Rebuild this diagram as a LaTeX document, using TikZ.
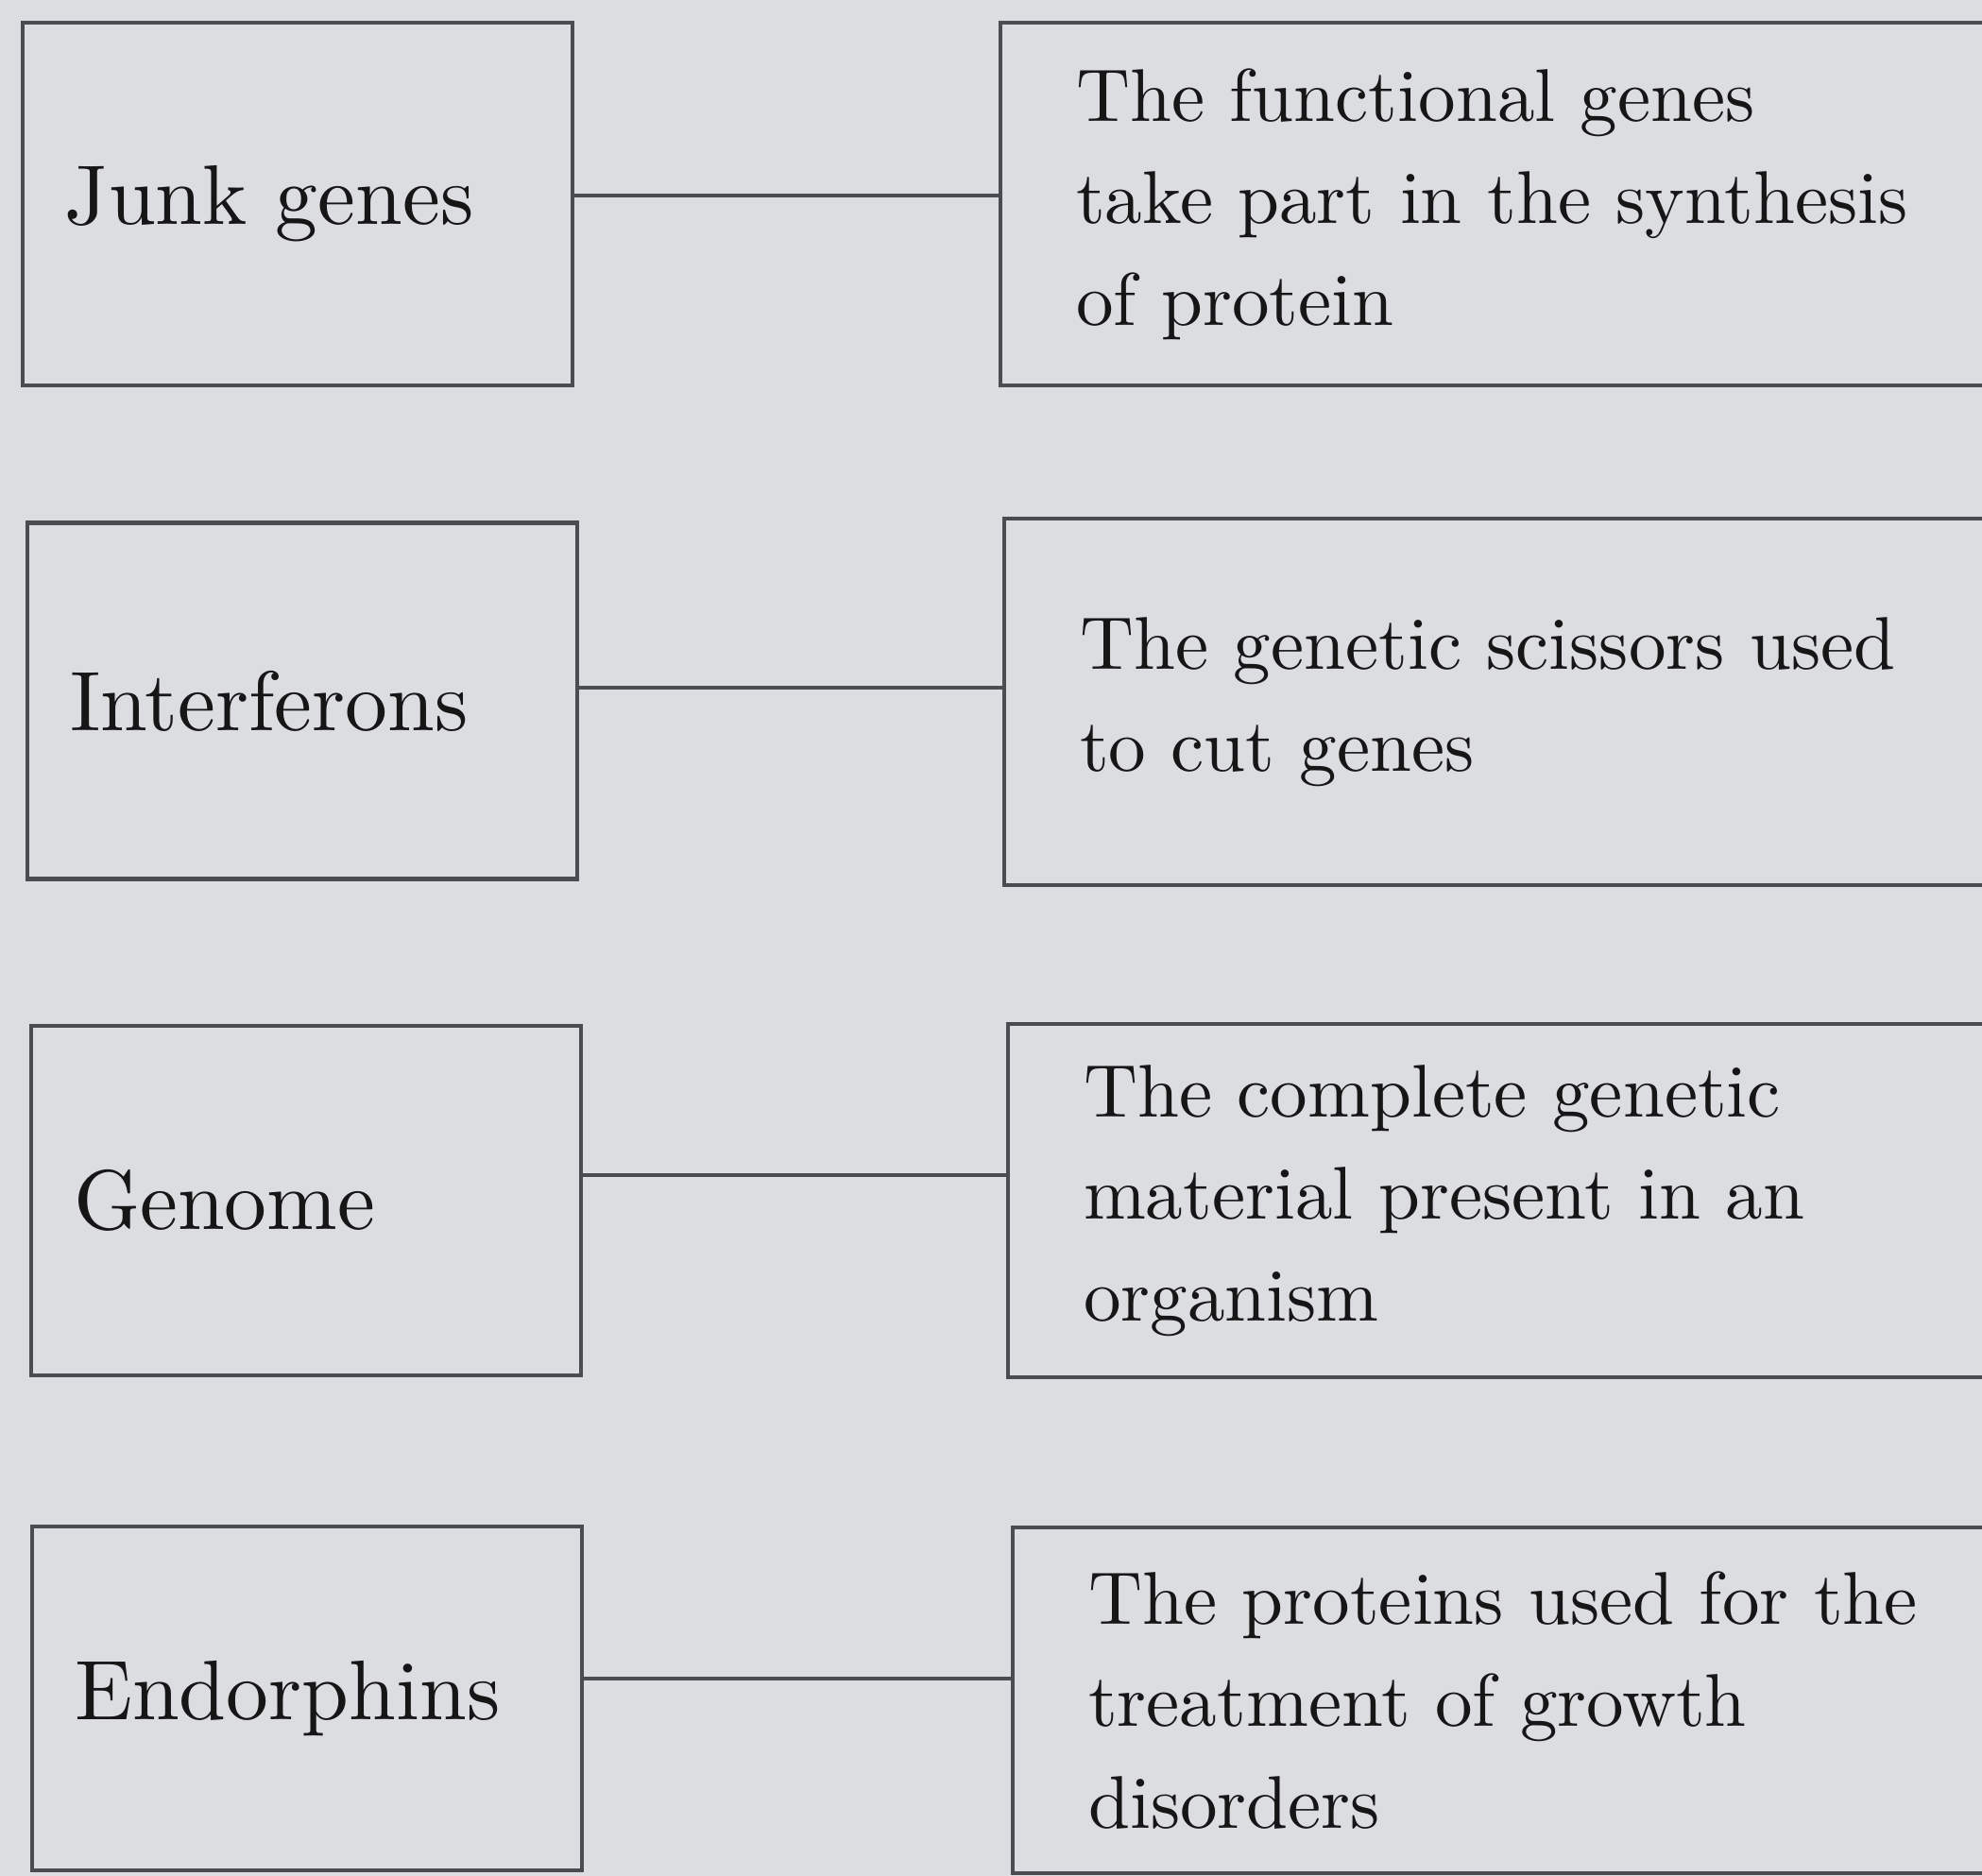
\documentclass[tikz,border=0pt]{standalone}
\usepackage{fontspec}
\setmainfont{lmroman10-regular.otf}
\usepackage{tikz}
\definecolor{pagegray}{HTML}{DCDDE1}
\definecolor{rulegray}{HTML}{4A4C52}
\definecolor{inkblack}{HTML}{161616}

\begin{document}
\begin{tikzpicture}[
  termbox/.style={draw=rulegray,line width=1.2pt,text=inkblack,align=left,
    text width=4.92cm,inner xsep=0.45cm,font=\fontsize{25.5}{31}\selectfont},
  defbox/.style={draw=rulegray,line width=1.2pt,text=inkblack,align=left,anchor=west,
    text width=11cm,inner xsep=0.8cm,font=\fontsize{22.5}{30.7}\selectfont},
  link/.style={draw=rulegray,line width=1.2pt}]
  \fill[pagegray] (0,0) rectangle (20.98,-19.86);
  \useasboundingbox (0,0) rectangle (20.98,-19.86);
  % terms
  \node[termbox,minimum height=3.84cm] (junk) at (3.15,-2.16) {Junk genes};
  \node[termbox,minimum height=3.77cm] (inter) at (3.20,-7.42) {Interferons};
  \node[termbox,minimum height=3.70cm] (genome) at (3.24,-12.71) {Genome};
  \node[termbox,minimum height=3.64cm] (endor) at (3.25,-17.98) {Endorphins};
  % definitions
  \node[defbox,minimum height=3.84cm] (func) at (10.57,-2.16)
    {The functional genes\\take part in the synthesis\\of protein};
  \node[defbox,minimum height=3.88cm] (sciss) at (10.61,-7.43)
    {The genetic scissors used\\to cut genes};
  \node[defbox,minimum height=3.74cm] (compl) at (10.65,-12.71)
    {The complete genetic\\material present in an\\organism};
  \node[defbox,minimum height=3.66cm] (prot) at (10.70,-18.00)
    {The proteins used for the\\treatment of growth\\disorders};
  % links
  \draw[link] ([yshift=0.09cm]junk.east) -- ([yshift=0.09cm]junk.east -| func.west);
  \draw[link] ([yshift=0.14cm]inter.east) -- ([yshift=0.14cm]inter.east -| sciss.west);
  \draw[link] ([yshift=0.27cm]genome.east) -- ([yshift=0.27cm]genome.east -| compl.west);
  \draw[link] ([yshift=0.21cm]endor.east) -- ([yshift=0.21cm]endor.east -| prot.west);
\end{tikzpicture}
\end{document}
